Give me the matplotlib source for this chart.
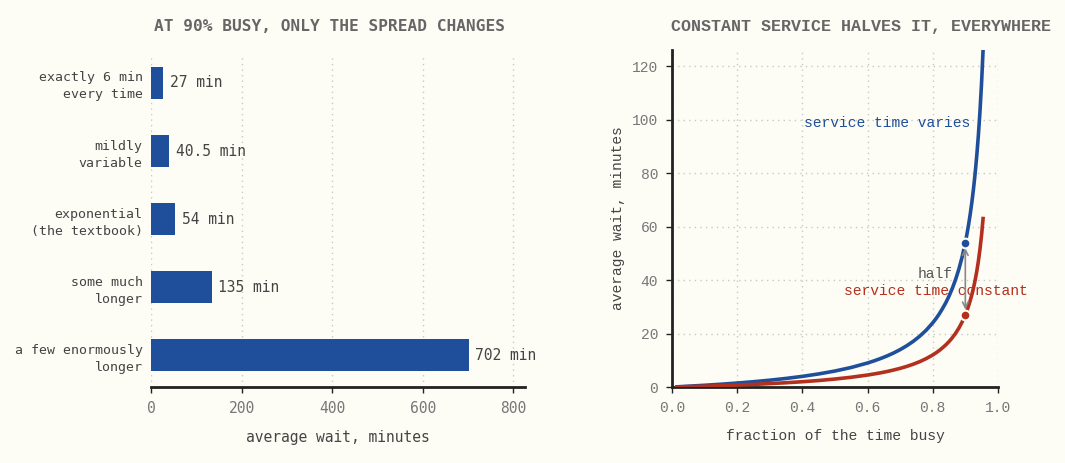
import matplotlib.pyplot as plt
import numpy as np

# left panel data
spread_labels = ["exactly 6 min\nevery time", "mildly\nvariable", "exponential\n(the textbook)",
                 "some much\nlonger", "a few enormously\nlonger"]
spread_waits = [27, 40.5, 54, 135, 702]
spread_text = ["27 min", "40.5 min", "54 min", "135 min", "702 min"]

# right panel data
busy = [0.01, 0.05, 0.1, 0.15, 0.2, 0.25, 0.3, 0.35, 0.4, 0.45, 0.5, 0.55, 0.6, 0.62, 0.64,
        0.66, 0.68, 0.7, 0.72, 0.74, 0.76, 0.78, 0.8, 0.81, 0.82, 0.83, 0.84, 0.85, 0.86,
        0.87, 0.88, 0.89, 0.9, 0.905, 0.91, 0.915, 0.92, 0.925, 0.93, 0.935, 0.94, 0.945,
        0.95, 0.955]
wait_varies = [0.06, 0.32, 0.67, 1.06, 1.5, 2.0, 2.57, 3.23, 4.0, 4.91, 6.0, 7.33, 9.0, 9.79,
               10.67, 11.65, 12.75, 14.0, 15.43, 17.08, 19.0, 21.27, 24.0, 25.58, 27.33, 29.35,
               31.5, 34.0, 36.86, 40.15, 44.0, 48.55, 54.0, 57.16, 60.67, 64.59, 69.0, 74.0,
               79.71, 86.31, 94.0, 103.09, 114.0, 127.33]
wait_constant = [0.03, 0.16, 0.33, 0.53, 0.75, 1.0, 1.29, 1.62, 2.0, 2.45, 3.0, 3.67, 4.5, 4.9,
                 5.33, 5.82, 6.38, 7.0, 7.71, 8.54, 9.5, 10.64, 12.0, 12.79, 13.67, 14.68,
                 15.75, 17.0, 18.43, 20.08, 22.0, 24.27, 27.0, 28.58, 30.33, 32.29, 34.5, 37.0,
                 39.86, 43.15, 47.0, 51.55, 57.0, 63.67]
mark_x = 0.9
mark_varies = 54
mark_constant = 27

BG = "#fdfcf5"
BLUE = "#1f4f9b"
RED = "#b3301f"
DARK = "#222222"
GRAY = "#555555"
TICK = "#777777"
GRID = "#c8c8c8"

mono_l = ["DejaVu Sans Mono"]
mono_r = ["Liberation Mono", "DejaVu Sans Mono"]

fig = plt.figure(figsize=(10.65, 4.63), dpi=100)
fig.patch.set_facecolor(BG)

# ---- left: bars
ax1 = fig.add_axes([0.1418, 0.164, 0.3512, 0.717])
ax1.set_facecolor(BG)
ypos = np.arange(len(spread_waits))
ax1.barh(ypos, spread_waits, height=0.46, color=BLUE, zorder=3)
for y, v, t in zip(ypos, spread_waits, spread_text):
    ax1.text(v + 14, y, t, va="center", ha="left", fontsize=10.5, color="#444444",
             family=mono_l, zorder=4)
ax1.set_yticks(ypos)
ax1.set_yticklabels(spread_labels, family=mono_l, fontsize=9.5, color="#444444", linespacing=1.4)
ax1.set_ylim(4.47, -0.41)
ax1.set_xlim(0, 826)
ax1.set_xticks([0, 200, 400, 600, 800])
ax1.set_xticklabels(["0", "200", "400", "600", "800"], family=mono_l, fontsize=10.5, color=TICK)
ax1.tick_params(axis="y", length=0, pad=6)
ax1.tick_params(axis="x", length=4, width=1, color=DARK, pad=6)
for s in ["left", "right", "top"]:
    ax1.spines[s].set_visible(False)
ax1.spines["bottom"].set_linewidth(2)
ax1.spines["bottom"].set_color(DARK)
ax1.grid(axis="x", linestyle=(0, (1, 3)), color=GRID, linewidth=1, zorder=0)
ax1.set_xlabel("average wait, minutes", family=mono_l, fontsize=10.5, color="#444444", labelpad=10)
fig.text(0.309, 0.942, "AT 90% BUSY, ONLY THE SPREAD CHANGES", ha="center", va="center",
         family=mono_l, fontsize=11.6, fontweight="bold", color="#666666")

# ---- right: curves
ax2 = fig.add_axes([0.631, 0.164, 0.306, 0.728])
ax2.set_facecolor(BG)
ax2.plot(busy, wait_varies, color=BLUE, linewidth=2.6, zorder=3, solid_capstyle="butt")
ax2.plot(busy, wait_constant, color=RED, linewidth=2.6, zorder=3, solid_capstyle="butt")
ax2.plot([mark_x], [mark_varies], "o", color=BLUE, markersize=7, markeredgecolor=BG,
         markeredgewidth=1.5, zorder=5)
ax2.plot([mark_x], [mark_constant], "o", color=RED, markersize=7, markeredgecolor=BG,
         markeredgewidth=1.5, zorder=5)
ax2.annotate("", xy=(mark_x, mark_constant + 2), xytext=(mark_x, mark_varies - 2),
             arrowprops=dict(arrowstyle="<->", color="#888888", lw=1.2, shrinkA=0, shrinkB=0),
             zorder=4)
ax2.text(0.862, 42.2, "half", ha="right", va="center", family=mono_r, fontsize=10.5, color=GRAY)
ax2.text(0.66, 98.7, "service time varies", ha="center", va="center", family=mono_r,
         fontsize=10.5, color=BLUE)
ax2.text(0.81, 36, "service time constant", ha="center", va="center", family=mono_r,
         fontsize=10.5, color=RED)
ax2.set_xlim(0, 1)
ax2.set_ylim(0, 126)
ax2.set_xticks([0, 0.2, 0.4, 0.6, 0.8, 1.0])
ax2.set_xticklabels(["0.0", "0.2", "0.4", "0.6", "0.8", "1.0"], family=mono_r, fontsize=10.5,
                    color=TICK)
ax2.set_yticks([0, 20, 40, 60, 80, 100, 120])
ax2.set_yticklabels(["0", "20", "40", "60", "80", "100", "120"], family=mono_r, fontsize=10.5,
                    color=TICK)
ax2.tick_params(length=4, width=1, color=DARK, pad=6)
for s in ["right", "top"]:
    ax2.spines[s].set_visible(False)
for s in ["left", "bottom"]:
    ax2.spines[s].set_linewidth(2)
    ax2.spines[s].set_color(DARK)
ax2.grid(True, linestyle=(0, (1, 3)), color=GRID, linewidth=1, zorder=0)
ax2.set_xlabel("fraction of the time busy", family=mono_r, fontsize=10.5, color="#444444",
               labelpad=10)
ax2.set_ylabel("average wait, minutes", family=mono_r, fontsize=10.5, color="#444444",
               labelpad=5)
fig.text(0.808, 0.942, "CONSTANT SERVICE HALVES IT, EVERYWHERE", ha="center", va="center",
         family=mono_r, fontsize=12, fontweight="bold", color="#666666")

fig.savefig("out.png", dpi=100, facecolor=BG)
